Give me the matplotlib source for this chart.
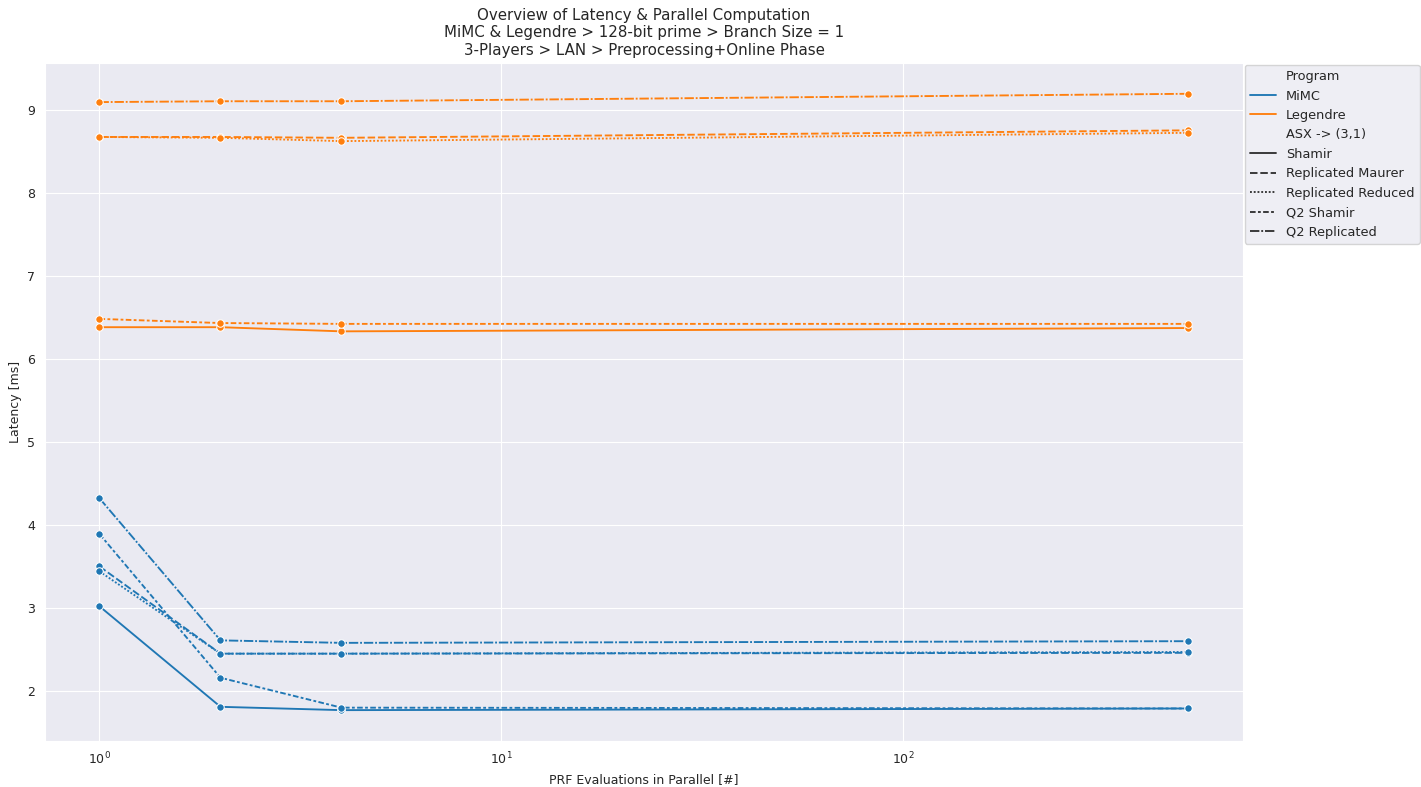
import numpy as np
import pandas as pd
import matplotlib
matplotlib.use("Agg")
import matplotlib.pyplot as plt
import seaborn as sns

# PRF evaluations in parallel
parallel = [1, 2, 4, 512]
programs = ["MiMC", "Legendre"]
schemes = ["Shamir", "Replicated Maurer", "Replicated Reduced", "Q2 Shamir", "Q2 Replicated"]

# latency [ms], one list per scheme, values at parallel = 1, 2, 4, 512
mimc_shamir = [3.02, 1.81, 1.77, 1.79]
mimc_rep_maurer = [3.50, 2.45, 2.45, 2.46]
mimc_rep_reduced = [3.44, 2.45, 2.45, 2.47]
mimc_q2_shamir = [3.89, 2.16, 1.80, 1.79]
mimc_q2_rep = [4.32, 2.61, 2.58, 2.60]

leg_shamir = [6.38, 6.38, 6.33, 6.37]
leg_rep_maurer = [8.67, 8.67, 8.66, 8.75]
leg_rep_reduced = [8.67, 8.66, 8.62, 8.72]
leg_q2_shamir = [6.48, 6.43, 6.42, 6.42]
leg_q2_rep = [9.09, 9.10, 9.10, 9.19]

latency = {
    "MiMC": [mimc_shamir, mimc_rep_maurer, mimc_rep_reduced, mimc_q2_shamir, mimc_q2_rep],
    "Legendre": [leg_shamir, leg_rep_maurer, leg_rep_reduced, leg_q2_shamir, leg_q2_rep],
}

rows = []
for prog in programs:
    for scheme, vals in zip(schemes, latency[prog]):
        for p, v in zip(parallel, vals):
            rows.append({"Program": prog, "ASX -> (3,1)": scheme,
                         "PRF Evaluations in Parallel [#]": p, "Latency [ms]": v})
df = pd.DataFrame(rows)

sns.set_style("darkgrid")
plt.rcParams["font.size"] = 9
plt.rcParams["xtick.labelsize"] = 9
plt.rcParams["ytick.labelsize"] = 9
plt.rcParams["axes.labelsize"] = 9
plt.rcParams["legend.fontsize"] = 9.3

fig, ax = plt.subplots(figsize=(14.21, 7.87), dpi=100)
fig.subplots_adjust(left=0.0317, right=0.8747, top=0.92, bottom=0.0585)

sns.lineplot(data=df, x="PRF Evaluations in Parallel [#]", y="Latency [ms]",
             hue="Program", style="ASX -> (3,1)", marker="o",
             linewidth=1.35, markersize=5.4, ax=ax)
ax.set_xscale("log")
ax.set_title("Overview of Latency & Parallel Computation\n"
             "MiMC & Legendre > 128-bit prime > Branch Size = 1\n"
             "3-Players > LAN > Preprocessing+Online Phase", fontsize=10.8)
leg = ax.legend(loc="upper left", bbox_to_anchor=(1.0, 1.0), borderaxespad=0.15)
for h in leg.legend_handles:
    h.set_marker("")

plt.savefig("out.png")
plt.close()
